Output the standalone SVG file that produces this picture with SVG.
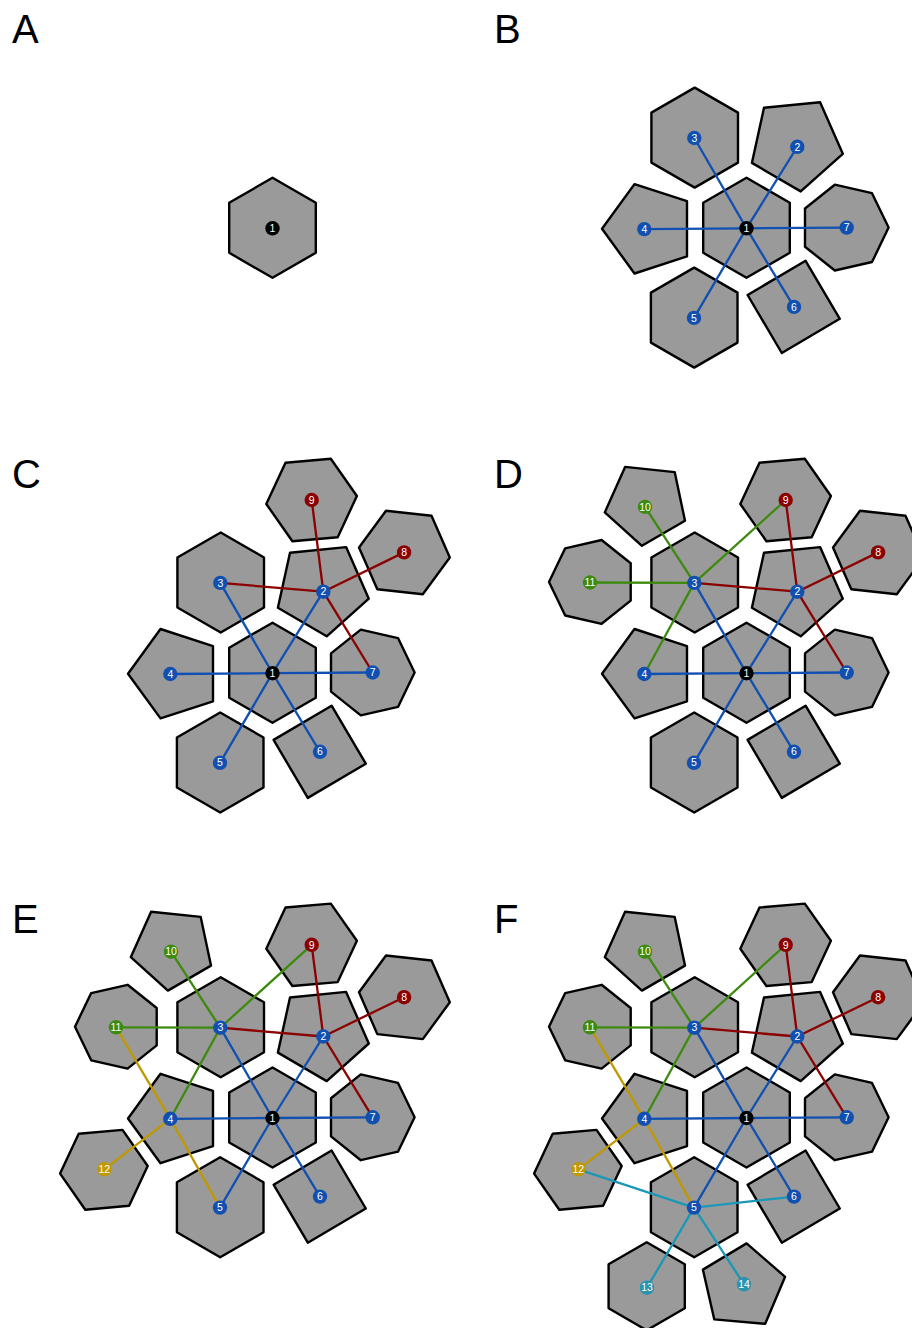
<svg xmlns="http://www.w3.org/2000/svg" xmlns:xlink="http://www.w3.org/1999/xlink" width="912" height="1328" viewBox="0 0 912 1328">
<style>
.t{fill:#9a9a9a;stroke:#000;stroke-width:2.4;stroke-linejoin:round}
.e{stroke-width:2.3;fill:none}
.bl{stroke:#1150b0}.rd{stroke:#8b0000}.gr{stroke:#3d8a0e}.gd{stroke:#c09800}.tl{stroke:#1a98b6}
.cbk{fill:#000}.cbl{fill:#1150b0}.crd{fill:#8b0000}.cgr{fill:#3d8a0e}.cgd{fill:#c09800}.ctl{fill:#2a93ad}
.lb{font-family:'Liberation Sans',Arial,sans-serif;font-size:10.5px;fill:#fff;text-anchor:middle}
.pl{font-family:'Liberation Sans',Arial,sans-serif;font-size:40px;fill:#000}
</style>
<defs>
<polygon id="p1" class="t" points="0,-50.5 43.3,-25.5 43.3,24.5 0,49.5 -43.3,24.5 -43.3,-25.5"/>
<polygon id="p2" class="t" points="96.3,-74.5 54.2,-36.9 5.4,-65.4 17.5,-120.5 73.6,-126.1"/>
<polygon id="p3" class="t" points="-51.8,-140.7 -8.5,-115.7 -8.5,-65.7 -51.8,-40.7 -95.1,-65.7 -95.1,-115.7"/>
<polygon id="p4" class="t" points="-144.5,0.5 -112,-44.2 -59.5,-27.1 -59.5,28.1 -112,45.2"/>
<polygon id="p5" class="t" points="-52.3,39.3 -9,64.3 -9,114.3 -52.3,139.3 -95.6,114.3 -95.6,64.3"/>
<polygon id="p6" class="t" points="59.1,32.5 93.3,90.5 35.3,124.7 1.1,66.7"/>
<polygon id="p7" class="t" points="142.1,-0.7 125.5,33.7 88.3,42.2 58.5,18.4 58.5,-19.8 88.3,-43.6 125.5,-35.1"/>
<polygon id="p8" class="t" points="177.3,-115.7 150.3,-78.9 104.8,-83.9 86.5,-125.7 113.5,-162.5 159,-157.5"/>
<polygon id="p9" class="t" points="84.4,-177.2 65.2,-135.9 19.9,-132 -6.2,-169.2 13,-210.5 58.3,-214.4"/>
<polygon id="p10" class="t" points="-61.5,-152.4 -104.6,-127.4 -141.7,-160.8 -121.4,-206.3 -71.8,-201.1"/>
<polygon id="p11" class="t" points="-197.5,-91.3 -181.3,-124.9 -144.9,-133.2 -115.8,-110 -115.8,-72.6 -144.9,-49.4 -181.3,-57.7"/>
<polygon id="p12" class="t" points="-124.8,48 -143.4,87.8 -187.2,91.7 -212.4,55.6 -193.8,15.8 -150,11.9"/>
<polygon id="p13" class="t" points="-99.8,124.3 -61.7,146.3 -61.7,190.3 -99.8,212.3 -137.9,190.3 -137.9,146.3"/>
<polygon id="p14" class="t" points="0.1,125.4 38.6,158.8 18.7,205.8 -32.2,201.4 -43.6,151.6"/>
<g id="eB" class="e bl">
<line x1="0" y1="0" x2="50.8" y2="-81.5"/>
<line x1="0" y1="0" x2="-52.2" y2="-90.3"/>
<line x1="0" y1="0" x2="-102.2" y2="0.8"/>
<line x1="0" y1="0" x2="-52.5" y2="89.6"/>
<line x1="0" y1="0" x2="47.5" y2="78.6"/>
<line x1="0" y1="0" x2="100.2" y2="-0.7"/>
</g>
<g id="eC" class="e rd">
<line x1="50.8" y1="-81.5" x2="-52.2" y2="-90.3"/>
<line x1="50.8" y1="-81.5" x2="100.2" y2="-0.7"/>
<line x1="50.8" y1="-81.5" x2="131.6" y2="-120.8"/>
<line x1="50.8" y1="-81.5" x2="39.2" y2="-173.2"/>
</g>
<g id="eD" class="e gr">
<line x1="-52.2" y1="-90.3" x2="-102.2" y2="0.8"/>
<line x1="-52.2" y1="-90.3" x2="39.2" y2="-173.2"/>
<line x1="-52.2" y1="-90.3" x2="-101.5" y2="-166.3"/>
<line x1="-52.2" y1="-90.3" x2="-156.5" y2="-90.7"/>
</g>
<g id="eE" class="e gd">
<line x1="-102.2" y1="0.8" x2="-156.5" y2="-90.7"/>
<line x1="-102.2" y1="0.8" x2="-52.5" y2="89.6"/>
<line x1="-102.2" y1="0.8" x2="-168.2" y2="51.3"/>
</g>
<g id="eF" class="e tl">
<line x1="-52.5" y1="89.6" x2="-168.2" y2="51.3"/>
<line x1="-52.5" y1="89.6" x2="47.5" y2="78.6"/>
<line x1="-52.5" y1="89.6" x2="-99.5" y2="169.7"/>
<line x1="-52.5" y1="89.6" x2="-2.5" y2="166.3"/>
</g>
<g id="m1"><circle class="cbk" cx="0" cy="0" r="7.2"/><text class="lb" x="0" y="3.7">1</text></g>
<g id="m2"><circle class="cbl" cx="50.8" cy="-81.5" r="7.2"/><text class="lb" x="50.8" y="-77.8">2</text></g>
<g id="m3"><circle class="cbl" cx="-52.2" cy="-90.3" r="7.2"/><text class="lb" x="-52.2" y="-86.6">3</text></g>
<g id="m4"><circle class="cbl" cx="-102.2" cy="0.8" r="7.2"/><text class="lb" x="-102.2" y="4.5">4</text></g>
<g id="m5"><circle class="cbl" cx="-52.5" cy="89.6" r="7.2"/><text class="lb" x="-52.5" y="93.3">5</text></g>
<g id="m6"><circle class="cbl" cx="47.5" cy="78.6" r="7.2"/><text class="lb" x="47.5" y="82.3">6</text></g>
<g id="m7"><circle class="cbl" cx="100.2" cy="-0.7" r="7.2"/><text class="lb" x="100.2" y="3">7</text></g>
<g id="m8"><circle class="crd" cx="131.6" cy="-120.8" r="7.2"/><text class="lb" x="131.6" y="-117.1">8</text></g>
<g id="m9"><circle class="crd" cx="39.2" cy="-173.2" r="7.2"/><text class="lb" x="39.2" y="-169.5">9</text></g>
<g id="m10"><circle class="cgr" cx="-101.5" cy="-166.3" r="7.2"/><text class="lb" x="-101.5" y="-162.6">10</text></g>
<g id="m11"><circle class="cgr" cx="-156.5" cy="-90.7" r="7.2"/><text class="lb" x="-156.5" y="-87">11</text></g>
<g id="m12"><circle class="cgd" cx="-168.2" cy="51.3" r="7.2"/><text class="lb" x="-168.2" y="55">12</text></g>
<g id="m13"><circle class="ctl" cx="-99.5" cy="169.7" r="7.2"/><text class="lb" x="-99.5" y="173.4">13</text></g>
<g id="m14"><circle class="ctl" cx="-2.5" cy="166.3" r="7.2"/><text class="lb" x="-2.5" y="170">14</text></g>
</defs>
<rect width="912" height="1328" fill="#fff"/>
<g id="labels">
<text class="pl" x="12" y="43">A</text>
<text class="pl" x="494" y="43">B</text>
<text class="pl" x="12" y="488">C</text>
<text class="pl" x="494" y="488">D</text>
<text class="pl" x="12" y="933">E</text>
<text class="pl" x="494" y="933">F</text>
</g>
<g id="panelA" transform="translate(272.5,228.3)">
<g id="A-tile-1"><use href="#p1"/></g>
<g id="A-node-1"><use href="#m1"/></g>
</g>
<g id="panelB" transform="translate(746.5,228.3)">
<g id="B-tiles">
<g id="B-tile-1"><use href="#p1"/></g><g id="B-tile-2"><use href="#p2"/></g><g id="B-tile-3"><use href="#p3"/></g><g id="B-tile-4"><use href="#p4"/></g><g id="B-tile-5"><use href="#p5"/></g><g id="B-tile-6"><use href="#p6"/></g><g id="B-tile-7"><use href="#p7"/></g>
</g>
<g id="B-connectors"><use href="#eB"/></g>
<g id="B-nodes">
<g id="B-node-1"><use href="#m1"/></g><g id="B-node-2"><use href="#m2"/></g><g id="B-node-3"><use href="#m3"/></g><g id="B-node-4"><use href="#m4"/></g><g id="B-node-5"><use href="#m5"/></g><g id="B-node-6"><use href="#m6"/></g><g id="B-node-7"><use href="#m7"/></g>
</g>
</g>
<g id="panelC" transform="translate(272.5,673.2)">
<g id="C-tiles">
<g id="C-tile-1"><use href="#p1"/></g><g id="C-tile-2"><use href="#p2"/></g><g id="C-tile-3"><use href="#p3"/></g><g id="C-tile-4"><use href="#p4"/></g><g id="C-tile-5"><use href="#p5"/></g><g id="C-tile-6"><use href="#p6"/></g><g id="C-tile-7"><use href="#p7"/></g><g id="C-tile-8"><use href="#p8"/></g><g id="C-tile-9"><use href="#p9"/></g>
</g>
<g id="C-connectors"><use href="#eB"/><use href="#eC"/></g>
<g id="C-nodes">
<g id="C-node-1"><use href="#m1"/></g><g id="C-node-2"><use href="#m2"/></g><g id="C-node-3"><use href="#m3"/></g><g id="C-node-4"><use href="#m4"/></g><g id="C-node-5"><use href="#m5"/></g><g id="C-node-6"><use href="#m6"/></g><g id="C-node-7"><use href="#m7"/></g><g id="C-node-8"><use href="#m8"/></g><g id="C-node-9"><use href="#m9"/></g>
</g>
</g>
<g id="panelD" transform="translate(746.5,673.2)">
<g id="D-tiles">
<g id="D-tile-1"><use href="#p1"/></g><g id="D-tile-2"><use href="#p2"/></g><g id="D-tile-3"><use href="#p3"/></g><g id="D-tile-4"><use href="#p4"/></g><g id="D-tile-5"><use href="#p5"/></g><g id="D-tile-6"><use href="#p6"/></g><g id="D-tile-7"><use href="#p7"/></g><g id="D-tile-8"><use href="#p8"/></g><g id="D-tile-9"><use href="#p9"/></g><g id="D-tile-10"><use href="#p10"/></g><g id="D-tile-11"><use href="#p11"/></g>
</g>
<g id="D-connectors"><use href="#eB"/><use href="#eC"/><use href="#eD"/></g>
<g id="D-nodes">
<g id="D-node-1"><use href="#m1"/></g><g id="D-node-2"><use href="#m2"/></g><g id="D-node-3"><use href="#m3"/></g><g id="D-node-4"><use href="#m4"/></g><g id="D-node-5"><use href="#m5"/></g><g id="D-node-6"><use href="#m6"/></g><g id="D-node-7"><use href="#m7"/></g><g id="D-node-8"><use href="#m8"/></g><g id="D-node-9"><use href="#m9"/></g><g id="D-node-10"><use href="#m10"/></g><g id="D-node-11"><use href="#m11"/></g>
</g>
</g>
<g id="panelE" transform="translate(272.5,1118)">
<g id="E-tiles">
<g id="E-tile-1"><use href="#p1"/></g><g id="E-tile-2"><use href="#p2"/></g><g id="E-tile-3"><use href="#p3"/></g><g id="E-tile-4"><use href="#p4"/></g><g id="E-tile-5"><use href="#p5"/></g><g id="E-tile-6"><use href="#p6"/></g><g id="E-tile-7"><use href="#p7"/></g><g id="E-tile-8"><use href="#p8"/></g><g id="E-tile-9"><use href="#p9"/></g><g id="E-tile-10"><use href="#p10"/></g><g id="E-tile-11"><use href="#p11"/></g><g id="E-tile-12"><use href="#p12"/></g>
</g>
<g id="E-connectors"><use href="#eB"/><use href="#eC"/><use href="#eD"/><use href="#eE"/></g>
<g id="E-nodes">
<g id="E-node-1"><use href="#m1"/></g><g id="E-node-2"><use href="#m2"/></g><g id="E-node-3"><use href="#m3"/></g><g id="E-node-4"><use href="#m4"/></g><g id="E-node-5"><use href="#m5"/></g><g id="E-node-6"><use href="#m6"/></g><g id="E-node-7"><use href="#m7"/></g><g id="E-node-8"><use href="#m8"/></g><g id="E-node-9"><use href="#m9"/></g><g id="E-node-10"><use href="#m10"/></g><g id="E-node-11"><use href="#m11"/></g><g id="E-node-12"><use href="#m12"/></g>
</g>
</g>
<g id="panelF" transform="translate(746.5,1118)">
<g id="F-tiles">
<g id="F-tile-1"><use href="#p1"/></g><g id="F-tile-2"><use href="#p2"/></g><g id="F-tile-3"><use href="#p3"/></g><g id="F-tile-4"><use href="#p4"/></g><g id="F-tile-5"><use href="#p5"/></g><g id="F-tile-6"><use href="#p6"/></g><g id="F-tile-7"><use href="#p7"/></g><g id="F-tile-8"><use href="#p8"/></g><g id="F-tile-9"><use href="#p9"/></g><g id="F-tile-10"><use href="#p10"/></g><g id="F-tile-11"><use href="#p11"/></g><g id="F-tile-12"><use href="#p12"/></g><g id="F-tile-13"><use href="#p13"/></g><g id="F-tile-14"><use href="#p14"/></g>
</g>
<g id="F-connectors"><use href="#eB"/><use href="#eC"/><use href="#eD"/><use href="#eE"/><use href="#eF"/></g>
<g id="F-nodes">
<g id="F-node-1"><use href="#m1"/></g><g id="F-node-2"><use href="#m2"/></g><g id="F-node-3"><use href="#m3"/></g><g id="F-node-4"><use href="#m4"/></g><g id="F-node-5"><use href="#m5"/></g><g id="F-node-6"><use href="#m6"/></g><g id="F-node-7"><use href="#m7"/></g><g id="F-node-8"><use href="#m8"/></g><g id="F-node-9"><use href="#m9"/></g><g id="F-node-10"><use href="#m10"/></g><g id="F-node-11"><use href="#m11"/></g><g id="F-node-12"><use href="#m12"/></g><g id="F-node-13"><use href="#m13"/></g><g id="F-node-14"><use href="#m14"/></g>
</g>
</g>
</svg>
